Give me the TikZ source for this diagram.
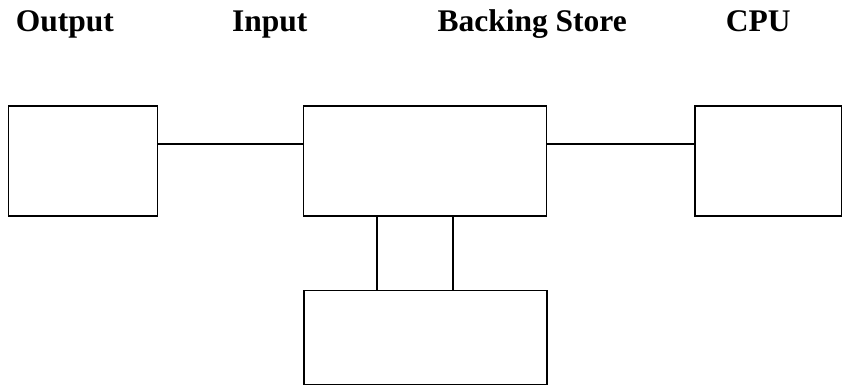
\documentclass[tikz,border=0pt]{standalone}
\usepackage{fontspec}
\setmainfont{Liberation Serif}
\begin{document}
\begin{tikzpicture}[x=1pt,y=-1pt,
  box/.style={draw=black,line width=1.3pt,inner sep=0pt,outer sep=0pt,rectangle},
  lbl/.style={anchor=base west,inner sep=0pt,font=\fontsize{31.5}{36}\selectfont\bfseries},
  wire/.style={draw=black,line width=1.3pt}]
\useasboundingbox (0,0) rectangle (849,387);
\node[lbl] (tout) at (15.7,32) {Output};
\node[lbl] (tin) at (232,32) {Input};
\node[lbl] (tbs) at (437.3,32) {Backing Store};
\node[lbl] (tcpu) at (725.7,32) {CPU};
\node[box,minimum width=149pt,minimum height=110pt] (left) at (82.8,161) {};
\node[box,minimum width=243pt,minimum height=110pt] (mid) at (425,161) {};
\node[box,minimum width=146.7pt,minimum height=110pt] (right) at (768.3,161) {};
\node[box,minimum width=243pt,minimum height=93.6pt] (bot) at (425.5,337.5) {};
\coordinate (h) at (0,144);
\coordinate (v1) at (377,0);
\coordinate (v2) at (453,0);
\draw[wire] (left.east |- h) -- (mid.west |- h);
\draw[wire] (mid.east |- h) -- (right.west |- h);
\draw[wire] (mid.south -| v1) -- (bot.north -| v1);
\draw[wire] (mid.south -| v2) -- (bot.north -| v2);
\end{tikzpicture}
\end{document}
